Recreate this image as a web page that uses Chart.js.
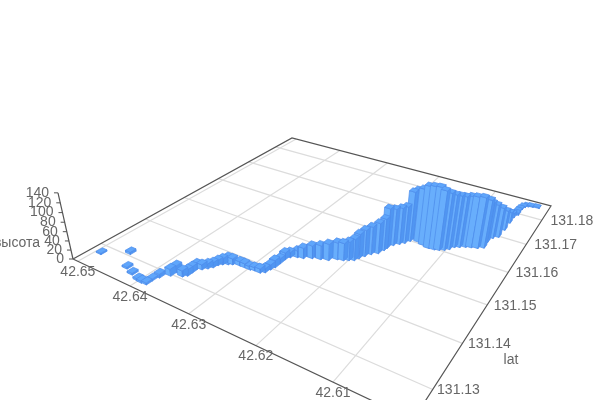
<!DOCTYPE html>
<html>
<head>
<meta charset="utf-8">
<script src="https://cdn.jsdelivr.net/npm/chart.js@4"></script>
<style>body{margin:0;background:#fff}canvas{display:block}</style>
</head>
<body>
<canvas id="c" width="600" height="400"></canvas>
<script>
// --- DATA ---
const lons = [42.6492,42.6459,42.6436,42.6420,42.6404,42.6397,42.6389,42.6389,42.6386,42.6377,42.6376,42.6363,42.6359,42.6359,42.6360,42.6353,42.6348,42.6344,42.6342,42.6338,
  42.6332,42.6327,42.6317,42.6309,42.6300,42.6294,42.6285,42.6280,42.6278,42.6276,42.6276,42.6276,42.6273,42.6265,42.6257,42.6247,42.6236,42.6226,42.6217,42.6209,
  42.6203,42.6197,42.6194,42.6190,42.6185,42.6178,42.6175,42.6174,42.6170,42.6164,42.6159,42.6155,42.6152,42.6143,42.6134,42.6125,42.6117,42.6111,42.6105,42.6100,
  42.6096,42.6090,42.6083,42.6076,42.6068,42.6061,42.6062,42.6059,42.6053,42.6052,42.6052,42.6052,42.6049,42.6050,42.6049,42.6047,42.6043,42.6037,42.6028];
const lats = [131.1283,131.1310,131.1278,131.1271,131.1265,131.1264,131.1265,131.1277,131.1289,131.1302,131.1314,131.1311,131.1317,131.1327,131.1339,131.1342,131.1349,131.1356,131.1365,131.1371,
  131.1376,131.1380,131.1384,131.1384,131.1384,131.1386,131.1386,131.1391,131.1402,131.1411,131.1425,131.1439,131.1448,131.1455,131.1458,131.1466,131.1471,131.1476,131.1486,131.1489,
  131.1494,131.1499,131.1508,131.1519,131.1530,131.1539,131.1553,131.1562,131.1576,131.1585,131.1593,131.1604,131.1614,131.1610,131.1605,131.1601,131.1602,131.1605,131.1610,131.1617,
  131.1628,131.1633,131.1639,131.1643,131.1647,131.1654,131.1675,131.1693,131.1702,131.1732,131.1762,131.1785,131.1800,131.1816,131.1826,131.1837,131.1843,131.1846,131.1848];
const heights = [3,5,4,4,4,4,4,4,8,15,15,13,13,13,11,11,11,11,11,13,
  16,13,9,9,7,7,9,9,11,16,11,15,12,15,23,28,31,36,37,38,
  41,47,54,58,61,67,70,88,81,81,82,110,110,118,130,135,136,130,125,120,
  114,112,112,112,112,106,89,76,67,45,25,11,5,2,2,2,2,2,2];
const lonTicks = [42.65,42.64,42.63,42.62,42.61];
const latTicks = [131.13,131.14,131.15,131.16,131.17,131.18];
const heightTicks = [0,20,40,60,80,100,120,140];

// --- 3D PROJECTION (floor homography + vertical vanishing point) ---
const lonMax = 42.651, lonSpan = 0.05, latMin = 131.1243, latSpan = 0.0622, heightMax = 140;
const barLon = 0.00046, barLat = 0.00064;

function project(lon, lat, z) {
  const u = (lonMax - lon) / lonSpan, v = (lat - latMin) / latSpan, s = z / heightMax;
  const w = -0.2867 * u + 0.4655 * v + 1 - 0.062 * s;
  return {
    x: (221.6 * u + 354.9 * v + 73 - 18.6 * s) / w,
    y: (40.6 * u - 56.8 * v + 259 - 78.12 * s) / w
  };
}

// --- DATASETS ---
// chart.js paints the highest order first, so negative index keeps push order = paint order
const datasets = [];
const line = (points, color, width) => datasets.push({
  data: points, borderColor: color, borderWidth: width, pointRadius: 0, fill: false, showLine: true,
  order: -datasets.length
});
const face = (corners, color, edge) => datasets.push({
  data: [...corners, corners[0]], backgroundColor: color, borderColor: edge, borderWidth: 0.7,
  pointRadius: 0, fill: 'shape', showLine: true, order: -datasets.length
});

const lonEnd = lonMax - lonSpan, latEnd = latMin + latSpan;
lonTicks.forEach(t => line([project(t, latMin, 0), project(t, latEnd, 0)], '#dcdcdc', 1.2));
latTicks.forEach(t => line([project(lonMax, t, 0), project(lonEnd, t, 0)], '#dcdcdc', 1.2));
line([project(lonMax, latMin, 0), project(lonMax, latEnd, 0), project(lonEnd, latEnd, 0), project(lonEnd, latMin, 0), project(lonMax, latMin, 0)], '#555', 1.2);
line([project(lonMax, latMin, 0), project(lonMax, latMin, heightMax)], '#555', 1.2);

// bars, far ones first
const order = lons.map((_, i) => i).sort((i, j) => project(lons[i], lats[i], 0).y - project(lons[j], lats[j], 0).y);
order.forEach(i => {
  const lo = lons[i], la = lats[i], z = heights[i];
  const p = (dLon, dLat, h) => project(lo + dLon * barLon, la + dLat * barLat, h);
  face([p(1, -1, 0), p(-1, -1, 0), p(-1, -1, z), p(1, -1, z)], '#68aefc', '#4d8ceb');
  face([p(-1, -1, 0), p(-1, 1, 0), p(-1, 1, z), p(-1, -1, z)], '#5096f2', '#4d8ceb');
  face([p(1, -1, z), p(-1, -1, z), p(-1, 1, z), p(1, 1, z)], '#5fa6fb', '#4d8ceb');
});

// --- AXIS TEXT ---
const axisText = {
  id: 'axisText',
  afterDatasetsDraw(chart) {
    const { ctx, scales: { x, y } } = chart;
    const put = (text, px, py, align) => {
      ctx.textAlign = align;
      ctx.fillText(text, x.getPixelForValue(px), y.getPixelForValue(py));
    };
    ctx.save();
    ctx.font = '14px "Liberation Sans"';
    ctx.fillStyle = '#666';
    ctx.textBaseline = 'middle';
    lonTicks.forEach(t => { const p = project(t, latMin, 0); put(t.toFixed(2), p.x, p.y + 11, 'center'); });
    latTicks.forEach(t => { const p = project(lonEnd, t, 0); put(t.toFixed(2), p.x + 30 - (p.y - 219) * 0.025, p.y + 1, 'center'); });
    heightTicks.forEach(t => { const p = project(lonMax, latMin, t); put(String(t), p.x - 9, p.y, 'right'); });
    put('высота', 17, 243, 'center');
    put('lat', 511, 360, 'center');
    // small ticks on the height axis
    ctx.strokeStyle = '#555';
    heightTicks.forEach(t => {
      const p = project(lonMax, latMin, t);
      ctx.beginPath();
      ctx.moveTo(x.getPixelForValue(p.x), y.getPixelForValue(p.y));
      ctx.lineTo(x.getPixelForValue(p.x - 4), y.getPixelForValue(p.y));
      ctx.stroke();
    });
    ctx.restore();
  }
};

// --- CHART ---
new Chart(document.getElementById('c'), {
  type: 'line',
  data: { datasets },
  options: {
    responsive: false,
    animation: false,
    layout: { padding: 0 },
    elements: { line: { tension: 0 } },
    plugins: { legend: { display: false }, tooltip: { enabled: false } },
    scales: {
      x: { type: 'linear', min: 0, max: 600, display: false },
      y: { type: 'linear', min: 0, max: 400, reverse: true, display: false }
    }
  },
  plugins: [axisText]
});
</script>
</body>
</html>
